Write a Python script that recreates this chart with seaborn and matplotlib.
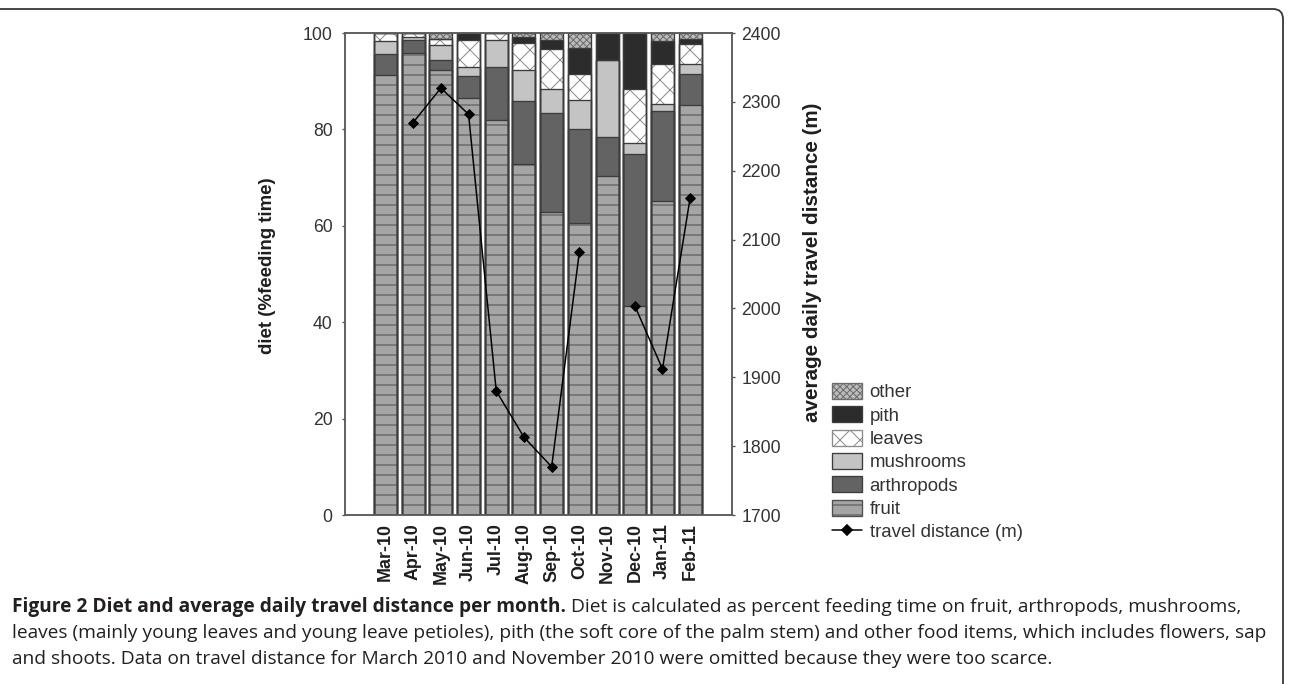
import numpy as np
import pandas as pd
import matplotlib
matplotlib.use("Agg")
import matplotlib.pyplot as plt
from matplotlib.patches import Patch, FancyBboxPatch
from matplotlib.lines import Line2D
from matplotlib.transforms import IdentityTransform
import seaborn as sns

# ---- data -------------------------------------------------------------
months = ["Mar-10", "Apr-10", "May-10", "Jun-10", "Jul-10", "Aug-10",
          "Sep-10", "Oct-10", "Nov-10", "Dec-10", "Jan-11", "Feb-11"]
fruit      = [91.3, 95.9, 92.4, 86.6, 81.9, 72.9, 62.9, 60.6, 70.3, 43.4, 65.2, 85.0]
arthropods = [4.4, 2.6, 2.0, 4.5, 11.0, 13.0, 20.4, 19.5, 8.2, 31.6, 18.7, 6.5]
mushrooms  = [2.6, 0.7, 3.2, 1.8, 5.7, 6.4, 5.1, 6.0, 15.9, 2.2, 1.4, 2.1]
leaves     = [1.7, 0.8, 1.1, 5.6, 1.4, 5.6, 8.3, 5.4, 0.0, 11.2, 8.3, 4.2]
pith       = [0.0, 0.0, 0.0, 1.5, 0.0, 1.2, 1.8, 5.4, 5.6, 11.6, 4.7, 1.0]
other      = [0.0, 0.0, 1.2, 0.0, 0.0, 0.9, 1.5, 3.1, 0.0, 0.0, 1.7, 1.2]
# average daily travel distance (m); no data for Mar-10 and Nov-10
travel     = [np.nan, 2270, 2320, 2282, 1880, 1813, 1770, 2082, np.nan, 2004, 1912, 2161]

diet_names = ["fruit", "arthropods", "mushrooms", "leaves", "pith", "other"]
diet_values = [fruit, arthropods, mushrooms, leaves, pith, other]

caption_bold = "Figure 2 Diet and average daily travel distance per month."
caption_lines = [
    " Diet is calculated as percent feeding time on fruit, arthropods, mushrooms,",
    "leaves (mainly young leaves and young leave petioles), pith (the soft core of the palm stem) and other food items, which includes flowers, sap",
    "and shoots. Data on travel distance for March 2010 and November 2010 were omitted because they were too scarce.",
]

# ---- styling ----------------------------------------------------------
sns.set_style("ticks")
plt.rcParams["font.family"] = ["Liberation Sans", "DejaVu Sans"]
plt.rcParams["hatch.linewidth"] = 0.6

W, H, DPI = 1289, 684, 120
fig = plt.figure(figsize=(W / DPI, H / DPI), dpi=DPI)
fig.patch.set_facecolor("white")

# segment styles: face colour, hatch pattern, hatch colour
styles = {
    "fruit":      ("#a5a5a5", "--",     "#4e4e4e"),
    "arthropods": ("#636363", None,     "#636363"),
    "mushrooms":  ("#c4c4c4", None,     "#c4c4c4"),
    "leaves":     ("#ffffff", "xx",     "#8c8c8c"),
    "pith":       ("#2c2c2c", None,     "#2c2c2c"),
    "other":      ("#bcbcbc", "xxxxxx", "#6c6c6c"),
}
outline = "#3c3c3c"
ink = "#333333"
label_ink = "#1e1e1e"

ax = fig.add_axes([345 / W, (H - 515) / H, 387 / W, 482 / H])
ax.set_facecolor("white")

cum = np.cumsum(np.array(diet_values, dtype=float), axis=0)
bar_w = 0.83

# stacked bars: draw the cumulative totals from the top segment down
for i in reversed(range(len(diet_names))):
    face, hatch, hcol = styles[diet_names[i]]
    sns.barplot(x=months, y=cum[i], order=months, ax=ax, color=face,
                hatch=hatch, edgecolor=hcol, linewidth=0, width=bar_w,
                saturation=1, errorbar=None)
# segment outlines
for i in range(len(diet_names)):
    sns.barplot(x=months, y=cum[i], order=months, ax=ax, fill=False,
                color=outline, linewidth=0.8, width=bar_w, saturation=1,
                errorbar=None)

ax.set_ylim(0, 100)
ax.set_yticks(np.arange(0, 101, 20))
ax.set_xlim(-1.46, 12.51)
ax.set_xticks(np.arange(len(months)))
ax.set_xticklabels(months, rotation=90, fontweight="bold", fontsize=10.7, color=label_ink)
ax.set_xlabel("")
ax.tick_params(axis="x", length=0, pad=5)
ax.tick_params(axis="y", direction="out", length=2, width=0.8, colors="#555555",
               labelcolor=ink, labelsize=10.6, pad=5.5)
for sp in ax.spines.values():
    sp.set_visible(True)
    sp.set_color("#5a5a5a")
    sp.set_linewidth(0.9)
ax.set_ylabel("diet (%feeding time)", fontweight="bold", fontsize=11.2, color=label_ink)
ax.yaxis.set_label_coords((276 - 345) / 387, (515 - 266) / 482)

# travel distance on secondary axis
ax2 = ax.twinx()
seg = np.cumsum(np.isnan(np.array(travel, dtype=float)))
df = pd.DataFrame({"pos": np.arange(len(months)), "travel": travel, "seg": seg})
sns.lineplot(data=df, x="pos", y="travel", units="seg", estimator=None, sort=False,
             ax=ax2, color="black", linewidth=0.9, marker="D", markersize=4.6,
             markeredgecolor="black", markeredgewidth=0.5, legend=False)
ax2.set_ylim(1700, 2400)
ax2.set_yticks(np.arange(1700, 2401, 100))
ax2.set_xlim(-1.46, 12.51)
ax2.tick_params(axis="y", direction="out", length=2, width=0.8, colors="#555555",
                labelcolor=ink, labelsize=10.6, pad=3.5)
for sp in ax2.spines.values():
    sp.set_visible(True)
    sp.set_color("#5a5a5a")
    sp.set_linewidth(0.9)
ax2.set_ylabel("average daily travel distance (m)", fontweight="bold", fontsize=12.4,
               color=label_ink, rotation=90)
ax2.yaxis.set_label_coords((803 - 345) / 387, (515 - 262) / 482)

# legend
handles = []
labels = []
for name in reversed(diet_names):
    face, hatch, hcol = styles[name]
    handles.append(Patch(facecolor=face, hatch=hatch,
                         edgecolor=hcol if hatch else outline, linewidth=0.8))
    labels.append(name)
handles.append(Line2D([], [], color="black", linewidth=0.9, marker="D",
                      markersize=4.6, markeredgecolor="black"))
labels.append("travel distance (m)")
leg = fig.legend(handles, labels, loc="upper left",
                 bbox_to_anchor=(832 / W, 1 - 383 / H), frameon=False,
                 fontsize=11.2, handlelength=1.6, handleheight=0.95,
                 labelspacing=0.26, handletextpad=0.42, borderpad=0,
                 borderaxespad=0)
for t in leg.get_texts():
    t.set_color(ink)

# caption
cap_family = ["Open Sans", "DejaVu Sans"]
renderer = fig.canvas.get_renderer()
probe = fig.text(0, 0, caption_lines[1], fontsize=10, family=cap_family)
cap_size = 10 * 1247 / probe.get_window_extent(renderer).width
probe.remove()

cap_color = "#231f20"
baselines = [612, 638, 664]
tb = fig.text(12 / W, 1 - baselines[0] / H, caption_bold, fontsize=cap_size,
              family=cap_family, fontweight="bold", color=cap_color, va="baseline")
bb = tb.get_window_extent(renderer)
fig.text(bb.x1 / W, 1 - baselines[0] / H, caption_lines[0], fontsize=cap_size,
         family=cap_family, color=cap_color, va="baseline")
for line, yb in zip(caption_lines[1:], baselines[1:]):
    fig.text(12 / W, 1 - yb / H, line, fontsize=cap_size, family=cap_family,
             color=cap_color, va="baseline")

# rounded frame around the figure
frame = FancyBboxPatch((-30, -30), 1283 + 30, (H - 9) + 30,
                       boxstyle="round,pad=0,rounding_size=10",
                       transform=IdentityTransform(), fill=False,
                       edgecolor="#3a3a3a", linewidth=1.1)
fig.add_artist(frame)

fig.savefig("out.png", dpi=DPI)
